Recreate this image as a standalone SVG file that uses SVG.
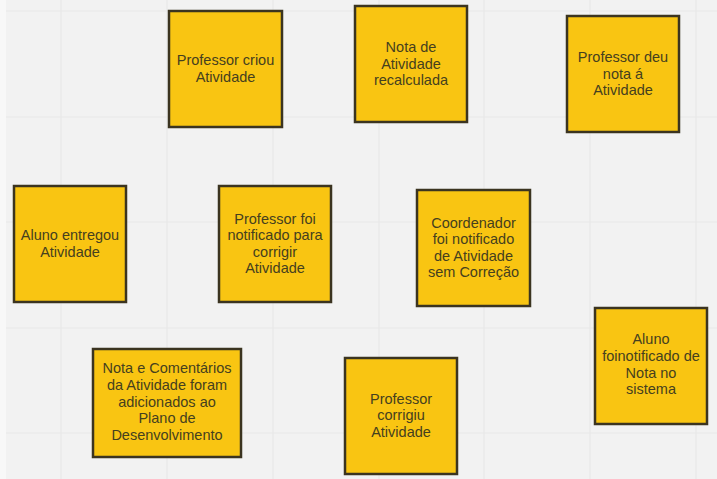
<svg xmlns="http://www.w3.org/2000/svg" width="717" height="479" viewBox="0 0 717 479">
<style>
.note rect{fill:#f9c512;stroke:#3b3420;stroke-width:2.5}
.note text{font-family:"Liberation Sans",Arial,sans-serif;font-size:14.5px;fill:#45401f;text-anchor:middle}
.grid line{stroke:#e8e8e8;stroke-width:1.2}
</style>
<rect width="717" height="479" fill="#f2f2f2"/>
<rect x="0" y="0" width="6" height="479" fill="#f8f8f8"/>
<g class="grid">
<line x1="61" y1="0" x2="61" y2="479"/>
<line x1="167" y1="0" x2="167" y2="479"/>
<line x1="273" y1="0" x2="273" y2="479"/>
<line x1="379" y1="0" x2="379" y2="479"/>
<line x1="484" y1="0" x2="484" y2="479"/>
<line x1="590" y1="0" x2="590" y2="479"/>
<line x1="696" y1="0" x2="696" y2="479"/>
<line x1="6" y1="11" x2="717" y2="11"/>
<line x1="6" y1="117" x2="717" y2="117"/>
<line x1="6" y1="222" x2="717" y2="222"/>
<line x1="6" y1="328" x2="717" y2="328"/>
<line x1="6" y1="433" x2="717" y2="433"/>
</g>
<g id="connectors"></g>
<g id="n1" class="note"><rect x="169" y="11" width="113" height="116"/><text><tspan x="225.5" y="65">Professor criou</tspan><tspan x="225.5" y="82">Atividade</tspan></text></g>
<g id="n2" class="note"><rect x="355" y="6" width="112" height="116"/><text><tspan x="411" y="52">Nota de</tspan><tspan x="411" y="68.5">Atividade</tspan><tspan x="411" y="85">recalculada</tspan></text></g>
<g id="n3" class="note"><rect x="567" y="16" width="112" height="116"/><text><tspan x="623" y="62">Professor deu</tspan><tspan x="623" y="78.5">nota á</tspan><tspan x="623" y="95">Atividade</tspan></text></g>
<g id="n4" class="note"><rect x="14" y="186" width="112" height="116"/><text><tspan x="70" y="240">Aluno entregou</tspan><tspan x="70" y="257">Atividade</tspan></text></g>
<g id="n5" class="note"><rect x="219" y="186" width="112" height="116"/><text><tspan x="275" y="223.5">Professor foi</tspan><tspan x="275" y="240">notificado para</tspan><tspan x="275" y="256.5">corrigir</tspan><tspan x="275" y="273">Atividade</tspan></text></g>
<g id="n6" class="note"><rect x="417" y="190" width="113" height="116"/><text><tspan x="473.5" y="227.5">Coordenador</tspan><tspan x="473.5" y="244">foi notificado</tspan><tspan x="473.5" y="260.5">de Atividade</tspan><tspan x="473.5" y="277">sem Correção</tspan></text></g>
<g id="n7" class="note"><rect x="595" y="308" width="112" height="116"/><text><tspan x="651" y="344">Aluno</tspan><tspan x="651" y="361">foinotificado de</tspan><tspan x="651" y="377.5">Nota no</tspan><tspan x="651" y="394">sistema</tspan></text></g>
<g id="n8" class="note"><rect x="93" y="349" width="148" height="108"/><text><tspan x="167" y="372.5">Nota e Comentários</tspan><tspan x="167" y="389.5">da Atividade foram</tspan><tspan x="167" y="406.5">adicionados ao</tspan><tspan x="167" y="423">Plano de</tspan><tspan x="167" y="440">Desenvolvimento</tspan></text></g>
<g id="n9" class="note"><rect x="345" y="358" width="112" height="116"/><text><tspan x="401" y="403.5">Professor</tspan><tspan x="401" y="420">corrigiu</tspan><tspan x="401" y="436.5">Atividade</tspan></text></g>
</svg>
